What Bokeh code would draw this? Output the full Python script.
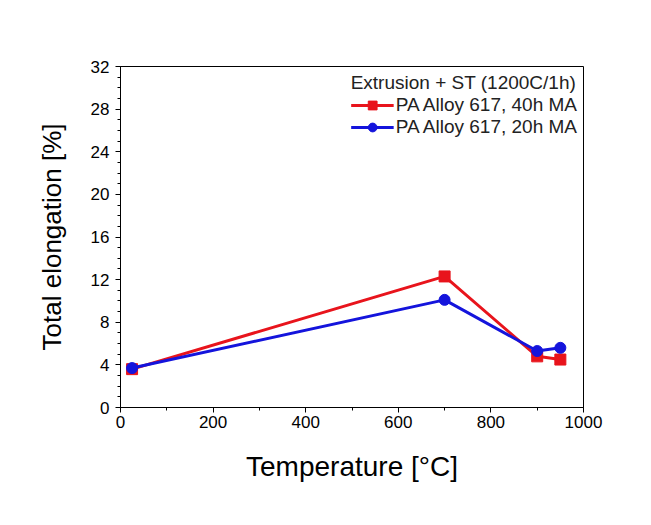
from bokeh.plotting import figure
from bokeh.embed import file_html
from bokeh.resources import INLINE
from bokeh.models import Range1d, FixedTicker

temperature = [25, 700, 900, 950]
elong_40h = [3.6, 12.3, 4.8, 4.5]
elong_20h = [3.7, 10.1, 5.3, 5.6]
label_40h = "PA Alloy 617, 40h MA"
label_20h = "PA Alloy 617, 20h MA"
legend_title = "Extrusion + ST (1200C/1h)"
x_ticks = [0, 200, 400, 600, 800, 1000]
y_ticks = [0, 4, 8, 12, 16, 20, 24, 28, 32]

FONT = "Liberation Sans"
RED = "#e8141c"
BLUE = "#1414dc"

p = figure(width=643, height=517, frame_width=463, frame_height=341,
           min_border_left=120, min_border_right=60, min_border_top=66, min_border_bottom=110,
           x_range=Range1d(0, 1000), y_range=Range1d(0, 32),
           output_backend="svg", toolbar_location=None, tools="")

p.xgrid.visible = False
p.ygrid.visible = False
p.outline_line_color = "black"
p.outline_line_width = 1
p.background_fill_color = "white"
p.border_fill_color = "white"

p.line(temperature, elong_40h, color=RED, line_width=3, legend_label=label_40h)
p.scatter(temperature, elong_40h, marker="square", size=11, color=RED, legend_label=label_40h)
p.line(temperature, elong_20h, color=BLUE, line_width=3, legend_label=label_20h)
p.scatter(temperature, elong_20h, marker="circle", size=11, color=BLUE, legend_label=label_20h)

for ax in (p.xaxis[0], p.yaxis[0]):
    ax.major_label_text_font = FONT
    ax.major_label_text_font_size = "17px"
    ax.major_label_text_color = "black"
    ax.axis_label_text_font = FONT
    ax.axis_label_text_font_style = "normal"
    ax.axis_label_text_color = "black"
    ax.major_tick_out = 5
    ax.major_tick_in = 0
    ax.minor_tick_out = 3
    ax.minor_tick_in = 0
    ax.axis_line_color = "black"
    ax.major_tick_line_color = "black"
    ax.minor_tick_line_color = "black"

p.xaxis[0].axis_label_text_font_size = "28px"
p.yaxis[0].axis_label_text_font_size = "26px"
p.xaxis[0].ticker = FixedTicker(ticks=x_ticks, minor_ticks=list(range(0, 1001, 100)))
p.yaxis[0].ticker = FixedTicker(ticks=y_ticks, minor_ticks=list(range(0, 33, 1)))
p.xaxis[0].axis_label = "Temperature [°C]"
p.yaxis[0].axis_label = "Total elongation [%]"
p.xaxis[0].major_label_standoff = 3
p.yaxis[0].major_label_standoff = 6
p.xaxis[0].axis_label_standoff = 20
p.yaxis[0].axis_label_standoff = 21

leg = p.legend[0]
leg.title = legend_title
leg.title_text_font = FONT
leg.title_text_font_size = "19px"
leg.title_text_font_style = "normal"
leg.title_text_color = "#222222"
leg.label_text_font = FONT
leg.label_text_font_size = "19px"
leg.label_text_color = "#222222"
leg.location = "top_right"
leg.border_line_color = None
leg.background_fill_alpha = 0
leg.margin = 6
leg.padding = 6
leg.spacing = 0
leg.label_height = 22
leg.glyph_height = 22
leg.glyph_width = 43
leg.label_standoff = 2
leg.title_standoff = 0

open("out.html", "w").write(file_html(p, INLINE))
